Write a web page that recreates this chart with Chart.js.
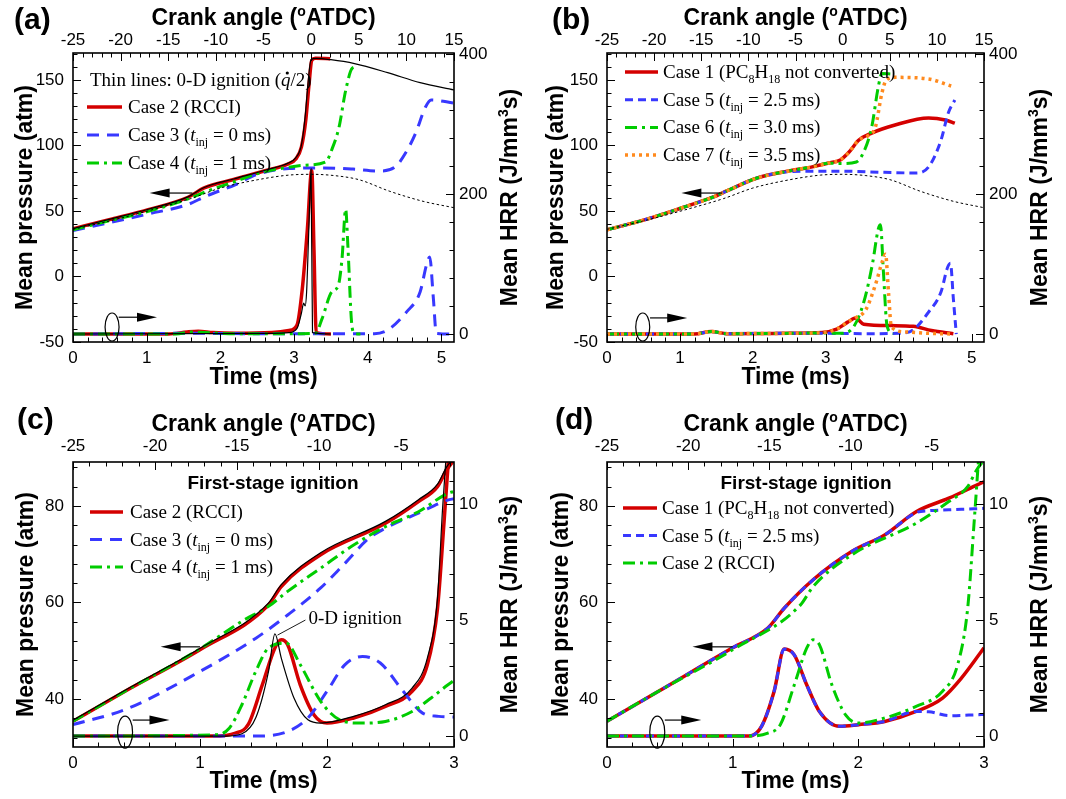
<!DOCTYPE html>
<html>
<head>
<meta charset="utf-8">
<script src="https://cdn.jsdelivr.net/npm/chart.js@4.4.1/dist/chart.umd.min.js"></script>
<style>
  body { margin: 0; background: #fff; width: 1066px; height: 799px; position: relative; overflow: hidden; }
  canvas { position: absolute; }
</style>
</head>
<body>
<canvas id="ca" width="533" height="400" style="left:0;top:0"></canvas>
<canvas id="cb" width="533" height="400" style="left:533px;top:0"></canvas>
<canvas id="cc" width="533" height="399" style="left:0;top:400px"></canvas>
<canvas id="cd" width="533" height="399" style="left:533px;top:400px"></canvas>
<script>
// ---- (a) time (ms) / pressure (atm) / HRR (J/mm3s)
const aT_p2 = [0, 0.49, 1.02, 1.56, 1.78, 2.18, 2.62, 2.93, 3.02, 3.1, 3.16, 3.2, 3.24, 3.29, 3.49];
const aP_case2 = [36.5, 43.4, 51, 60.5, 67.6, 74, 80.9, 86.2, 89.5, 99, 120, 145, 165, 166.5, 166.3];
const aT_p0d = [0, 0.49, 1.02, 1.56, 1.78, 2.18, 2.62, 2.93, 3.02, 3.1, 3.15, 3.19, 3.23, 3.3, 3.5, 3.82, 4.27, 4.71, 5.17];
const aP_0d = [36.6, 43.6, 51.3, 60.8, 67.9, 74.4, 81.3, 86.8, 90.5, 100.5, 122, 148, 165.5, 166.5, 165.5, 162.5, 155.6, 148, 142.4];
const aT_p3 = [0, 0.49, 1.02, 1.56, 1.8, 2.2, 2.49, 2.93, 3.4, 3.8, 4.15, 4.38, 4.51, 4.65, 4.78, 4.86, 5.17];
const aP_case3 = [35, 41, 47.7, 55, 61.2, 70, 77.8, 82.4, 82.9, 82, 80.5, 84, 94, 109.5, 129, 134.7, 132.4];
const aT_p4 = [0, 0.49, 1.02, 1.56, 1.84, 2.2, 2.53, 2.93, 3.16, 3.43, 3.51, 3.61, 3.7, 3.79, 3.85];
const aP_case4 = [35.7, 42.5, 49.7, 59.2, 65.6, 72.5, 79, 83.4, 85, 87.4, 96.6, 114, 142, 159, 160];
const motorT = [0, 0.49, 1.13, 1.6, 2.0, 2.5, 2.93, 3.24, 3.55, 3.88, 4.3, 4.75, 5.17];
const motorP = [36, 42.3, 51.8, 59.5, 67.5, 73.8, 77.4, 78.0, 77.0, 73.9, 65, 57.4, 52.5];
const aT_h2 = [0, 1.3, 1.55, 1.7, 1.9, 2.2, 2.7, 2.93, 3.04, 3.11, 3.18, 3.24, 3.27, 3.3, 3.5];
const aH_case2 = [0, 0, 3, 4, 2, 1, 2, 5, 13, 63, 149, 234, 120, 2, 0];
const aT_h0d = [0, 2.7, 2.93, 3.04, 3.1, 3.13, 3.15, 3.17, 3.2, 3.23, 3.25, 3.5];
const aH_0d = [0, 1, 2, 8, 30, 44, 40, 60, 150, 236, 2, 0];
const aT_h3 = [0, 1.6, 2.5, 4.09, 4.27, 4.53, 4.71, 4.8, 4.84, 4.89, 4.93, 5.17];
const aH_case3 = [0, 1, 0.5, 0.5, 5.7, 32, 60, 100, 110, 51, 1, 0];
const aT_h4 = [0, 1.4, 1.6, 1.8, 2.2, 3.1, 3.29, 3.38, 3.51, 3.6, 3.65, 3.7, 3.73, 3.78, 3.82, 3.9];
const aH_case4 = [0, 0, 3, 2, 0.5, 0.5, 1, 22, 60, 69.5, 107, 178, 126, 17, 1, 0];

// ---- (b)
const bT_p1 = [0, 0.5, 1.02, 1.45, 1.65, 2.05, 2.5, 2.8, 3.04, 3.2, 3.32, 3.45, 3.63, 3.95, 4.41, 4.64, 4.77];
const bP_case1 = [35.7, 43, 52.3, 60.5, 65.5, 75, 80.6, 83.5, 86.6, 89, 95, 104, 109.5, 115.6, 121, 119.5, 117];
const bT_p5 = [0, 0.5, 1.02, 1.45, 1.65, 2.05, 2.5, 2.75, 3.2, 3.8, 4.23, 4.41, 4.58, 4.68, 4.77];
const bP_case5 = [35.7, 43, 52.3, 60.5, 65.5, 75, 80, 80.3, 80.4, 79.5, 79, 83.6, 104, 124.8, 134.7];
const bT_p6 = [0, 0.5, 1.02, 1.45, 1.65, 2.05, 2.5, 2.8, 3.04, 3.22, 3.42, 3.52, 3.63, 3.72, 3.77, 3.9];
const bP_case6 = [35.7, 43, 52.3, 60.5, 65.5, 75, 80.6, 83.5, 86.4, 86.3, 87.4, 95, 114, 144.7, 155, 154.6];
const bT_p7 = [0, 0.5, 1.02, 1.45, 1.65, 2.05, 2.5, 2.8, 3.04, 3.2, 3.32, 3.45, 3.58, 3.68, 3.77, 3.83, 3.95, 4.41, 4.72];
const bP_case7 = [35.7, 43, 52.3, 60.5, 65.5, 75, 80.6, 83.5, 86.6, 89, 95, 104, 107.5, 114, 140, 150, 152, 150.8, 145.4];
const bT_h1 = [0, 1.2, 1.43, 1.65, 2.5, 2.95, 3.15, 3.3, 3.41, 3.52, 3.9, 4.2, 4.45, 4.75];
const bH_case1 = [0, 0, 3.5, 0.5, 1, 2, 7, 17, 23, 14, 12, 11, 5, 0.5];
const bT_h5 = [0, 1.2, 1.43, 1.65, 2.5, 3.0, 3.5, 4.0, 4.2, 4.4, 4.58, 4.67, 4.71, 4.75, 4.79];
const bH_case5 = [0, 0, 3.5, 0.5, 1, 1, 0.5, 1, 6, 30, 60, 95, 101, 50, 0];
const bT_h6 = [0, 1.2, 1.43, 1.65, 2.5, 3.0, 3.2, 3.38, 3.52, 3.64, 3.72, 3.75, 3.79, 3.84, 3.92];
const bH_case6 = [0, 0, 3.5, 0.5, 1, 1.5, 1, 10, 45, 100, 150, 156, 90, 12, 0];
const bT_h7 = [0, 1.2, 1.43, 1.65, 2.5, 2.95, 3.15, 3.3, 3.41, 3.55, 3.68, 3.78, 3.82, 3.86, 3.9, 4.1, 4.4, 4.75];
const bH_case7 = [0, 0, 3.5, 0.5, 1, 2, 7, 17, 23, 35, 70, 105, 114, 60, 10, 3, 1, 0];

// ---- (c)
const cT_p2 = [0, 0.41, 1.0, 1.54, 1.64, 1.95, 2.46, 2.72, 2.87, 2.94, 3.0];
const cP_case2 = [35.4, 41.6, 50.2, 59.5, 63.3, 69.9, 76.4, 80.9, 84, 87.4, 89.5];
const cP_0d = [35.6, 41.8, 50.5, 59.9, 63.7, 70.3, 76.8, 81.3, 84.5, 88, 90];
const cT_p3 = [0, 0.41, 1.0, 1.44, 1.69, 1.95, 2.13, 2.33, 2.46, 2.72, 2.95, 3.0];
const cP_case3 = [34.7, 37.8, 45.7, 52.6, 57.4, 63, 67.8, 73.3, 75.4, 78.5, 81.2, 81.5];
const cT_p4 = [0, 0.41, 1.0, 1.33, 1.54, 1.69, 1.95, 2.21, 2.46, 2.72, 2.95, 3.0];
const cP_case4 = [35.4, 41.6, 50.4, 56.1, 59.2, 62.3, 67.1, 71.9, 75.7, 78.8, 82.6, 83];
const cT_h2 = [0, 1.1, 1.28, 1.38, 1.49, 1.59, 1.64, 1.69, 1.79, 1.9, 2.0, 2.21, 2.46, 2.67, 2.79, 2.87, 2.92, 2.97];
const cH_case2 = [0, 0, 0.13, 0.5, 2.2, 3.8, 4.15, 3.94, 2.2, 0.9, 0.56, 0.78, 1.28, 1.93, 3.07, 5.5, 9.1, 13];
const cT_h0d = [0, 1.2, 1.33, 1.44, 1.54, 1.59, 1.64, 1.74, 1.85, 1.95, 2.21, 2.46, 2.67, 2.79, 2.87, 2.91, 2.95];
const cH_0d = [0, 0, 0.1, 0.8, 2.8, 4.4, 3.36, 1.64, 0.7, 0.56, 0.85, 1.35, 2.07, 3.36, 5.95, 9.8, 13];
const cT_h3 = [0, 1.44, 1.69, 1.85, 2.0, 2.14, 2.28, 2.42, 2.6, 2.75, 2.88, 3.0];
const cH_case3 = [0, 0, 0.2, 0.78, 1.93, 3.07, 3.43, 3.15, 1.93, 1.0, 0.85, 0.82];
const cT_h4 = [0, 1.13, 1.23, 1.33, 1.44, 1.54, 1.68, 1.79, 1.95, 2.1, 2.26, 2.46, 2.67, 2.82, 2.95, 3.0];
const cH_case4 = [0, 0.06, 0.34, 1.35, 2.8, 3.8, 4.0, 3.07, 1.5, 0.7, 0.56, 0.63, 1.06, 1.64, 2.2, 2.4];

// ---- (d)
const dT_p1 = [0, 0.41, 1.0, 1.28, 1.41, 1.64, 1.95, 2.21, 2.46, 2.72, 2.95, 3.0];
const dP_case1 = [35.4, 41.6, 50.6, 54.7, 58.8, 64.7, 70.6, 74, 78.8, 81.6, 84.4, 85];
const dT_p5 = [0, 0.41, 1.0, 1.28, 1.41, 1.64, 1.95, 2.21, 2.46, 2.56, 2.72, 2.92, 3.0];
const dP_case5 = [35.4, 41.6, 50.6, 54.7, 58.8, 64.7, 70.6, 74, 78.6, 79, 79.2, 79.4, 79.5];
const dT_h1 = [0, 1.13, 1.23, 1.33, 1.41, 1.49, 1.59, 1.69, 1.85, 2.0, 2.21, 2.46, 2.67, 2.82, 2.97, 3.0];
const dH_case1 = [0, 0, 0.42, 1.93, 3.75, 3.5, 2.2, 1.06, 0.42, 0.49, 0.63, 1.06, 1.64, 2.5, 3.58, 3.8];
const dT_h5 = [0, 1.13, 1.23, 1.33, 1.41, 1.49, 1.59, 1.69, 1.85, 2.0, 2.21, 2.46, 2.56, 2.72, 2.95, 3.0];
const dH_case5 = [0, 0, 0.42, 1.93, 3.75, 3.5, 2.2, 1.06, 0.42, 0.49, 0.63, 1.06, 1.05, 0.88, 0.92, 0.93];
// (d) Case 2 is the same run as Case 2 in (c)

const SANS = '"Liberation Sans", Arial, Helvetica, sans-serif';
const SERIF = '"Liberation Serif", "Times New Roman", Times, serif';
const ST = {
  red: { c: '#d40000', w: 3.5, d: [] },
  blue: { c: '#3838ff', w: 3, d: [12, 8] },
  blue2: { c: '#3838ff', w: 3, d: [8, 5] },
  green: { c: '#00cc00', w: 3, d: [12, 5, 3, 5] },
  orange: { c: '#ff8a1e', w: 3.5, d: [3, 4] },
  thin: { c: '#000', w: 1.2, d: [] },
  motor: { c: '#000', w: 1, d: [2.5, 2.5] }
};

function ds(t, v, st, axis) {
  return {
    data: t.map((x, i) => ({ x, y: v[i] })),
    yAxisID: axis,
    borderColor: st.c, borderWidth: st.w, borderDash: st.d,
    pointRadius: 0, fill: false, cubicInterpolationMode: 'monotone'
  };
}

// rich text: [text, font, dy, flag]
function rich(ctx, segs, x, y, align) {
  ctx.textAlign = 'left';
  ctx.textBaseline = 'alphabetic';
  let w = 0;
  for (const s of segs) { ctx.font = s[1]; w += ctx.measureText(s[0]).width; }
  let cx = align === 'center' ? x - w / 2 : x;
  for (const s of segs) {
    ctx.font = s[1];
    const sw = ctx.measureText(s[0]).width;
    ctx.fillText(s[0], cx, y + (s[2] || 0));
    if (s[3] === 'dot') {
      ctx.beginPath(); ctx.arc(cx + sw / 2 + 1.5, y - 13, 1.6, 0, Math.PI * 2); ctx.fill();
    }
    cx += sw;
  }
}

const R = '19px ' + SERIF, I = 'italic 19px ' + SERIF, SUB = '12px ' + SERIF;
const B22 = 'bold 23px ' + SANS, B13 = 'bold 14px ' + SANS;
const tinj = (rest) => [['t', I], ['inj', SUB, 5], [rest, R]];

const deco = {
  id: 'deco',
  afterDraw(chart, args, o) {
    const ctx = chart.ctx, a = chart.chartArea, S = chart.scales;
    ctx.save();
    ctx.strokeStyle = '#000';
    ctx.fillStyle = '#000';
    ctx.setLineDash([]);
    // inward ticks
    ctx.lineWidth = 1;
    for (const [id, major, minor] of o.ticks) {
      const s = S[id];
      const i0 = Math.ceil(s.min / minor - 1e-6), i1 = Math.floor(s.max / minor + 1e-6);
      for (let i = i0; i <= i1; i++) {
        const v = i * minor, r = v / major;
        const len = Math.abs(r - Math.round(r)) < 1e-6 ? 8 : 4.5;
        const p = Math.round(s.getPixelForValue(v)) + 0.5;
        ctx.beginPath();
        if (s.position === 'bottom') { ctx.moveTo(p, a.bottom); ctx.lineTo(p, a.bottom - len); }
        else if (s.position === 'top') { ctx.moveTo(p, a.top); ctx.lineTo(p, a.top + len); }
        else if (s.position === 'left') { ctx.moveTo(a.left, p); ctx.lineTo(a.left + len, p); }
        else { ctx.moveTo(a.right, p); ctx.lineTo(a.right - len, p); }
        ctx.stroke();
      }
    }
    ctx.lineWidth = 1.6;
    ctx.strokeRect(a.left, a.top, a.right - a.left, a.bottom - a.top);

    // titles
    const cx = (a.left + a.right) / 2, cy = (a.top + a.bottom) / 2;
    rich(ctx, [['Crank angle (', B22], ['o', B13, -9], ['ATDC)', B22]], cx, o.topY, 'center');
    rich(ctx, [['Time (ms)', B22]], cx, o.botY, 'center');
    ctx.save(); ctx.translate(o.leftX, cy); ctx.rotate(-Math.PI / 2);
    rich(ctx, [['Mean pressure (atm)', B22]], 0, 0, 'center'); ctx.restore();
    ctx.save(); ctx.translate(o.rightX, cy); ctx.rotate(-Math.PI / 2);
    rich(ctx, [['Mean HRR (J/mm', B22], ['3', B13, -9], ['s)', B22]], 0, 0, 'center'); ctx.restore();
    rich(ctx, [[o.label, 'bold 30px ' + SANS]], o.labelX, 29, 'left');

    // legend
    const L = o.legend;
    if (L.header) rich(ctx, L.header.segs, L.header.x, L.header.y, L.header.align);
    L.items.forEach((it, i) => {
      const y = L.y0 + i * L.dy;
      ctx.save();
      ctx.strokeStyle = it.st.c; ctx.lineWidth = it.st.w; ctx.setLineDash(it.st.d);
      ctx.beginPath(); ctx.moveTo(L.x0, y); ctx.lineTo(L.x1, y); ctx.stroke();
      ctx.restore();
      rich(ctx, it.segs, L.tx, y + 6, 'left');
    });

    // arrows pointing to the axes
    ctx.lineWidth = 1.2;
    const X = S.x;
    const la = o.leftArrow;
    const lx0 = X.getPixelForValue(la.t0), lx1 = X.getPixelForValue(la.t1), ly = S.p.getPixelForValue(la.v);
    ctx.beginPath(); ctx.moveTo(lx0 + 18, ly); ctx.lineTo(lx1, ly); ctx.stroke();
    ctx.beginPath(); ctx.moveTo(lx0, ly); ctx.lineTo(lx0 + 20, ly - 4.5); ctx.lineTo(lx0 + 20, ly + 4.5); ctx.closePath(); ctx.fill();
    const el = o.ellipse;
    const ex = X.getPixelForValue(el.t), ey = S.h.getPixelForValue(el.v);
    ctx.beginPath(); ctx.ellipse(ex, ey, el.rx, el.ry, 0, 0, Math.PI * 2); ctx.stroke();
    const ra = o.rightArrow;
    const rx0 = X.getPixelForValue(ra.t0), rx1 = X.getPixelForValue(ra.t1), ry = S.h.getPixelForValue(ra.v);
    ctx.beginPath(); ctx.moveTo(rx0, ry); ctx.lineTo(rx1 - 18, ry); ctx.stroke();
    ctx.beginPath(); ctx.moveTo(rx1, ry); ctx.lineTo(rx1 - 20, ry - 4.5); ctx.lineTo(rx1 - 20, ry + 4.5); ctx.closePath(); ctx.fill();

    if (o.note) {
      const n = o.note;
      const x0 = X.getPixelForValue(n.t0), y0 = S.h.getPixelForValue(n.v0);
      const x1 = X.getPixelForValue(n.t1), y1 = S.h.getPixelForValue(n.v1);
      ctx.lineWidth = 0.9;
      ctx.beginPath(); ctx.moveTo(x0, y0); ctx.lineTo(x1, y1); ctx.stroke();
      rich(ctx, [[n.text, R]], x1 + 3, y1 + 4, 'left');
    }
    ctx.restore();
  }
};

function axisLin(pos, min, max, step, pad, size, extra) {
  const horiz = pos === 'top' || pos === 'bottom';
  return Object.assign({
    type: 'linear', position: pos, min, max,
    grid: { display: false, drawTicks: false }, border: { display: false },
    ticks: { stepSize: step, autoSkip: false, maxRotation: 0, padding: pad,
      color: '#000', font: { family: SANS, size: 17 } },
    afterBuildTicks: s => {
      const out = [];
      for (let i = Math.ceil(s.min / step - 1e-9); i * step <= s.max + 1e-9; i++) out.push({ value: +(i * step).toFixed(6) });
      s.ticks = out;
    },
    afterFit: s => { if (horiz) s.height = size; else s.width = size; }
  }, extra || {});
}

function panel(id, c, datasets, deco_) {
  new Chart(document.getElementById(id), {
    type: 'line',
    data: { datasets: datasets.map((d, i) => Object.assign(d, { order: datasets.length - i })) },
    options: {
      responsive: false, animation: false, devicePixelRatio: 1, events: [],
      layout: { padding: 0 },
      plugins: { legend: { display: false }, tooltip: { enabled: false }, deco: deco_ },
      scales: {
        x: axisLin('bottom', 0, c.xMax, 1, 6, c.Ba),
        ca: axisLin('top', -25, c.caMax, 5, c.topPad, c.Ta, { axis: 'x' }),
        p: axisLin('left', c.pMin, c.pMax, c.pStep, 9, c.La),
        h: axisLin('right', c.hMin, c.hMax, c.hStep, 5, c.Ra)
      }
    },
    plugins: [deco]
  });
}

const ABcfg = { xMax: 5.17, caMax: 15, pMin: -50, pMax: 170.6, pStep: 50, hMin: -11.4, hMax: 401.4, hStep: 200, Ta: 53, Ba: 58, topPad: 2 };
const CDcfg = { xMax: 3, caMax: -1.78, pMin: 30.05, pMax: 89.1, pStep: 20, hMin: -0.47, hMax: 11.81, hStep: 5, Ta: 62, Ba: 52, topPad: 5 };
const ABticks = [['x', 1, 0.2], ['ca', 5, 1], ['p', 50, 10], ['h', 200, 40]];
const CDticks = [['x', 1, 0.2], ['ca', 5, 1], ['p', 20, 4], ['h', 5, 1]];

// (a)
panel('ca', Object.assign({ La: 73, Ra: 79 }, ABcfg), [
  ds(aT_p2, aP_case2, ST.red, 'p'),
  ds(aT_h2, aH_case2, ST.red, 'h'),
  ds(aT_p3, aP_case3, ST.blue, 'p'),
  ds(aT_h3, aH_case3, ST.blue, 'h'),
  ds(aT_p4, aP_case4, ST.green, 'p'),
  ds(aT_h4, aH_case4, ST.green, 'h'),
  ds(motorT, motorP, ST.motor, 'p'),
  ds(aT_p0d, aP_0d, ST.thin, 'p'),
  ds(aT_h0d, aH_0d, ST.thin, 'h')
], {
  ticks: ABticks, label: '(a)', labelX: 14, topY: 25, botY: 384, leftX: 32, rightX: 517,
  legend: {
    header: { segs: [['Thin lines: 0-D ignition (', R], ['q', I, 0, 'dot'], ['/2)', R]], x: 90, y: 86, align: 'left' },
    x0: 87, x1: 122, tx: 128, y0: 107, dy: 28,
    items: [
      { st: ST.red, segs: [['Case 2 (RCCI)', R]] },
      { st: ST.blue, segs: [['Case 3 (', R]].concat(tinj(' = 0 ms)')) },
      { st: ST.green, segs: [['Case 4 (', R]].concat(tinj(' = 1 ms)')) }
    ]
  },
  leftArrow: { t0: 1.04, t1: 1.62, v: 63.7 },
  ellipse: { t: 0.53, v: 10, rx: 7, ry: 14 },
  rightArrow: { t0: 0.62, t1: 1.14, v: 24 }
});

// (b)
panel('cb', Object.assign({ La: 74, Ra: 82 }, ABcfg), [
  ds(bT_p1, bP_case1, ST.red, 'p'),
  ds(bT_h1, bH_case1, ST.red, 'h'),
  ds(bT_p5, bP_case5, ST.blue2, 'p'),
  ds(bT_h5, bH_case5, ST.blue2, 'h'),
  ds(bT_p6, bP_case6, ST.green, 'p'),
  ds(bT_h6, bH_case6, ST.green, 'h'),
  ds(bT_p7, bP_case7, ST.orange, 'p'),
  ds(bT_h7, bH_case7, ST.orange, 'h'),
  ds(motorT, motorP, ST.motor, 'p')
], {
  ticks: ABticks, label: '(b)', labelX: 19, topY: 25, botY: 384, leftX: 30, rightX: 514,
  legend: {
    x0: 92, x1: 125, tx: 130, y0: 72, dy: 27.7,
    items: [
      { st: ST.red, segs: [['Case 1 (PC', R], ['8', SUB, 5], ['H', R], ['18', SUB, 5], [' not converted)', R]] },
      { st: ST.blue2, segs: [['Case 5 (', R]].concat(tinj(' = 2.5 ms)')) },
      { st: ST.green, segs: [['Case 6 (', R]].concat(tinj(' = 3.0 ms)')) },
      { st: ST.orange, segs: [['Case 7 (', R]].concat(tinj(' = 3.5 ms)')) }
    ]
  },
  leftArrow: { t0: 1.02, t1: 1.58, v: 63.7 },
  ellipse: { t: 0.49, v: 10, rx: 7, ry: 14 },
  rightArrow: { t0: 0.59, t1: 1.1, v: 23 }
});

const firstStage = (x) => ({ segs: [['First-stage ignition', 'bold 19px ' + SANS]], x, y: 89, align: 'center' });

// (c)
panel('cc', Object.assign({ La: 73, Ra: 79 }, CDcfg), [
  ds(cT_p2, cP_case2, ST.red, 'p'),
  ds(cT_h2, cH_case2, ST.red, 'h'),
  ds(cT_p3, cP_case3, ST.blue, 'p'),
  ds(cT_h3, cH_case3, ST.blue, 'h'),
  ds(cT_p4, cP_case4, ST.green, 'p'),
  ds(cT_h4, cH_case4, ST.green, 'h'),
  ds(cT_p2, cP_0d, ST.thin, 'p'),
  ds(cT_h0d, cH_0d, ST.thin, 'h')
], {
  ticks: CDticks, label: '(c)', labelX: 17, topY: 31, botY: 388, leftX: 33, rightX: 517,
  legend: {
    header: firstStage(273),
    x0: 90, x1: 123, tx: 130, y0: 112, dy: 27.5,
    items: [
      { st: ST.red, segs: [['Case 2 (RCCI)', R]] },
      { st: ST.blue, segs: [['Case 3 (', R]].concat(tinj(' = 0 ms)')) },
      { st: ST.green, segs: [['Case 4 (', R]].concat(tinj(' = 1 ms)')) }
    ]
  },
  leftArrow: { t0: 0.69, t1: 1.0, v: 50.8 },
  ellipse: { t: 0.41, v: 0.17, rx: 7.5, ry: 16 },
  rightArrow: { t0: 0.47, t1: 0.76, v: 0.69 },
  note: { t0: 1.61, v0: 4.35, t1: 1.83, v1: 5.0, text: '0-D ignition' }
});

// (d)
panel('cd', Object.assign({ La: 74, Ra: 82 }, CDcfg), [
  ds(dT_p1, dP_case1, ST.red, 'p'),
  ds(dT_h1, dH_case1, ST.red, 'h'),
  ds(dT_p5, dP_case5, ST.blue2, 'p'),
  ds(dT_h5, dH_case5, ST.blue2, 'h'),
  ds(cT_p2, cP_case2, ST.green, 'p'),
  ds(cT_h2, cH_case2, ST.green, 'h')
], {
  ticks: CDticks, label: '(d)', labelX: 22, topY: 31, botY: 388, leftX: 35, rightX: 514,
  legend: {
    header: firstStage(273),
    x0: 90, x1: 124, tx: 129, y0: 108, dy: 27.5,
    items: [
      { st: ST.red, segs: [['Case 1 (PC', R], ['8', SUB, 5], ['H', R], ['18', SUB, 5], [' not converted)', R]] },
      { st: ST.blue2, segs: [['Case 5 (', R]].concat(tinj(' = 2.5 ms)')) },
      { st: ST.green, segs: [['Case 2 (RCCI)', R]] }
    ]
  },
  leftArrow: { t0: 0.68, t1: 1.0, v: 50.8 },
  ellipse: { t: 0.4, v: 0.17, rx: 7.5, ry: 16 },
  rightArrow: { t0: 0.46, t1: 0.75, v: 0.69 }
});
</script>
</body>
</html>
